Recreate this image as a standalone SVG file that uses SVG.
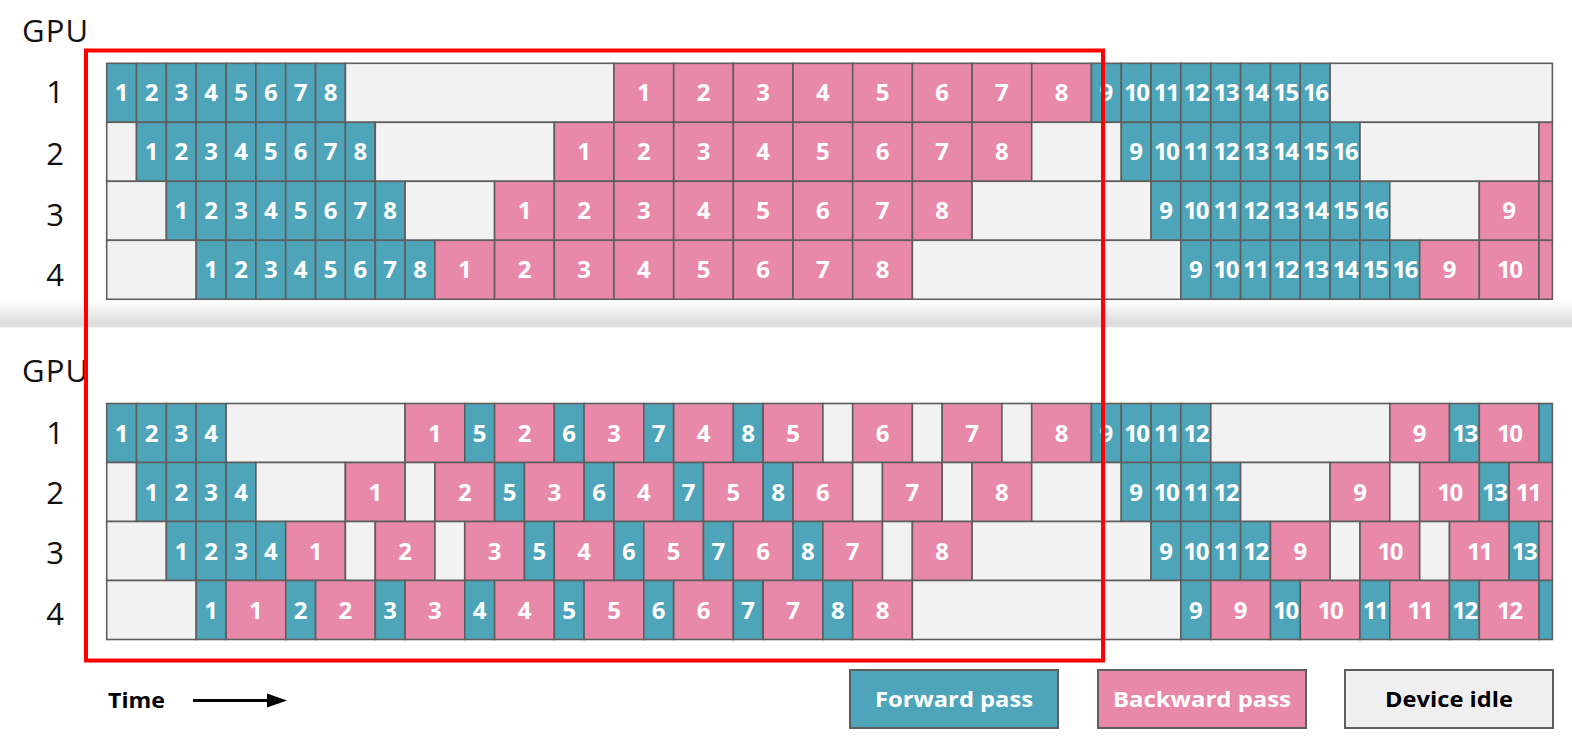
<svg xmlns="http://www.w3.org/2000/svg" width="1572" height="744" viewBox="0 0 1572 744">
<defs>
<style>
.f{fill:#4EA5B9}.b{fill:#E889A9}.i{fill:#F2F2F2}
.cells rect{stroke:#5E5E5E;stroke-width:1.6}
.n{font-family:'Open Sans','Liberation Sans',sans-serif;font-weight:700;font-size:24px;fill:#fff;text-anchor:middle}
.n2{letter-spacing:-1.5px}
.lab{font-family:'Open Sans','Liberation Sans',sans-serif;font-weight:400;font-size:31px;fill:#111}
.rl{text-anchor:middle}
.lg{font-family:'Open Sans','Liberation Sans',sans-serif;font-weight:700;font-size:22px;text-anchor:middle}
</style>
<linearGradient id="sh" x1="0" y1="0" x2="0" y2="1">
<stop offset="0" stop-color="#ffffff"/>
<stop offset="0.85" stop-color="#dcdcdc"/>
<stop offset="1" stop-color="#e4e4e4"/>
</linearGradient>
</defs>
<rect width="1572" height="744" fill="#fff"/>

<!-- TOP SECTION -->
<g id="top-labels" class="lab">
<text x="22" y="42" textLength="66">GPU</text>
<text class="rl" x="55" y="102.5">1</text>
<text class="rl" x="55" y="165">2</text>
<text class="rl" x="55" y="225.5">3</text>
<text class="rl" x="55" y="286">4</text>
</g>

<g id="top-gpu1" class="cells">
<rect class="f" x="106.7" y="63.3" width="29.8" height="59"/><rect class="f" x="136.5" y="63.3" width="29.8" height="59"/><rect class="f" x="166.4" y="63.3" width="29.8" height="59"/><rect class="f" x="196.2" y="63.3" width="29.8" height="59"/><rect class="f" x="226.1" y="63.3" width="29.8" height="59"/><rect class="f" x="255.9" y="63.3" width="29.8" height="59"/><rect class="f" x="285.7" y="63.3" width="29.8" height="59"/><rect class="f" x="315.6" y="63.3" width="29.8" height="59"/>
<rect class="i" x="345.4" y="63.3" width="268.6" height="59"/>
<rect class="b" x="614" y="63.3" width="59.7" height="59"/><rect class="b" x="673.7" y="63.3" width="59.7" height="59"/><rect class="b" x="733.3" y="63.3" width="59.7" height="59"/><rect class="b" x="793" y="63.3" width="59.7" height="59"/><rect class="b" x="852.7" y="63.3" width="59.7" height="59"/><rect class="b" x="912.4" y="63.3" width="59.7" height="59"/><rect class="b" x="972.1" y="63.3" width="59.7" height="59"/><rect class="b" x="1031.7" y="63.3" width="59.7" height="59"/>
<rect class="f" x="1091.4" y="63.3" width="29.8" height="59"/><rect class="f" x="1121.3" y="63.3" width="29.8" height="59"/><rect class="f" x="1151.1" y="63.3" width="29.8" height="59"/><rect class="f" x="1180.9" y="63.3" width="29.8" height="59"/><rect class="f" x="1210.8" y="63.3" width="29.8" height="59"/><rect class="f" x="1240.6" y="63.3" width="29.8" height="59"/><rect class="f" x="1270.5" y="63.3" width="29.8" height="59"/><rect class="f" x="1300.3" y="63.3" width="29.8" height="59"/>
<rect class="i" x="1330.1" y="63.3" width="222.3" height="59"/>
<g class="n">
<text x="121.6" y="101.3">1</text><text x="151.5" y="101.3">2</text><text x="181.3" y="101.3">3</text><text x="211.1" y="101.3">4</text><text x="241" y="101.3">5</text><text x="270.8" y="101.3">6</text><text x="300.6" y="101.3">7</text><text x="330.5" y="101.3">8</text>
<text x="643.8" y="101.3">1</text><text x="703.5" y="101.3">2</text><text x="763.2" y="101.3">3</text><text x="822.9" y="101.3">4</text><text x="882.5" y="101.3">5</text><text x="942.2" y="101.3">6</text><text x="1001.9" y="101.3">7</text><text x="1061.6" y="101.3">8</text>
<text x="1106.3" y="101.3">9</text><text class="n2" x="1136.2" y="101.3">10</text><text class="n2" x="1166" y="101.3">11</text><text class="n2" x="1195.8" y="101.3">12</text><text class="n2" x="1225.7" y="101.3">13</text><text class="n2" x="1255.5" y="101.3">14</text><text class="n2" x="1285.4" y="101.3">15</text><text class="n2" x="1315.2" y="101.3">16</text>
</g>
</g>

<g id="top-gpu2" class="cells">
<rect class="i" x="106.7" y="122.3" width="29.8" height="59"/>
<rect class="f" x="136.5" y="122.3" width="29.8" height="59"/><rect class="f" x="166.4" y="122.3" width="29.8" height="59"/><rect class="f" x="196.2" y="122.3" width="29.8" height="59"/><rect class="f" x="226.1" y="122.3" width="29.8" height="59"/><rect class="f" x="255.9" y="122.3" width="29.8" height="59"/><rect class="f" x="285.7" y="122.3" width="29.8" height="59"/><rect class="f" x="315.6" y="122.3" width="29.8" height="59"/><rect class="f" x="345.4" y="122.3" width="29.8" height="59"/>
<rect class="i" x="375.3" y="122.3" width="179" height="59"/>
<rect class="b" x="554.3" y="122.3" width="59.7" height="59"/><rect class="b" x="614" y="122.3" width="59.7" height="59"/><rect class="b" x="673.7" y="122.3" width="59.7" height="59"/><rect class="b" x="733.3" y="122.3" width="59.7" height="59"/><rect class="b" x="793" y="122.3" width="59.7" height="59"/><rect class="b" x="852.7" y="122.3" width="59.7" height="59"/><rect class="b" x="912.4" y="122.3" width="59.7" height="59"/><rect class="b" x="972.1" y="122.3" width="59.7" height="59"/>
<rect class="i" x="1031.7" y="122.3" width="89.6" height="59"/>
<rect class="f" x="1121.3" y="122.3" width="29.8" height="59"/><rect class="f" x="1151.1" y="122.3" width="29.8" height="59"/><rect class="f" x="1180.9" y="122.3" width="29.8" height="59"/><rect class="f" x="1210.8" y="122.3" width="29.8" height="59"/><rect class="f" x="1240.6" y="122.3" width="29.8" height="59"/><rect class="f" x="1270.5" y="122.3" width="29.8" height="59"/><rect class="f" x="1300.3" y="122.3" width="29.8" height="59"/><rect class="f" x="1330.1" y="122.3" width="29.8" height="59"/>
<rect class="i" x="1360" y="122.3" width="179" height="59"/>
<rect class="b" x="1539" y="122.3" width="13.4" height="59"/>
<g class="n">
<text x="151.5" y="160.3">1</text><text x="181.3" y="160.3">2</text><text x="211.1" y="160.3">3</text><text x="241" y="160.3">4</text><text x="270.8" y="160.3">5</text><text x="300.6" y="160.3">6</text><text x="330.5" y="160.3">7</text><text x="360.3" y="160.3">8</text>
<text x="584.1" y="160.3">1</text><text x="643.8" y="160.3">2</text><text x="703.5" y="160.3">3</text><text x="763.2" y="160.3">4</text><text x="822.9" y="160.3">5</text><text x="882.5" y="160.3">6</text><text x="942.2" y="160.3">7</text><text x="1001.9" y="160.3">8</text>
<text x="1136.2" y="160.3">9</text><text class="n2" x="1166" y="160.3">10</text><text class="n2" x="1195.8" y="160.3">11</text><text class="n2" x="1225.7" y="160.3">12</text><text class="n2" x="1255.5" y="160.3">13</text><text class="n2" x="1285.4" y="160.3">14</text><text class="n2" x="1315.2" y="160.3">15</text><text class="n2" x="1345.1" y="160.3">16</text>
</g>
</g>

<g id="top-gpu3" class="cells">
<rect class="i" x="106.7" y="181.3" width="59.7" height="59"/>
<rect class="f" x="166.4" y="181.3" width="29.8" height="59"/><rect class="f" x="196.2" y="181.3" width="29.8" height="59"/><rect class="f" x="226.1" y="181.3" width="29.8" height="59"/><rect class="f" x="255.9" y="181.3" width="29.8" height="59"/><rect class="f" x="285.7" y="181.3" width="29.8" height="59"/><rect class="f" x="315.6" y="181.3" width="29.8" height="59"/><rect class="f" x="345.4" y="181.3" width="29.8" height="59"/><rect class="f" x="375.3" y="181.3" width="29.8" height="59"/>
<rect class="i" x="405.1" y="181.3" width="89.5" height="59"/>
<rect class="b" x="494.6" y="181.3" width="59.7" height="59"/><rect class="b" x="554.3" y="181.3" width="59.7" height="59"/><rect class="b" x="614" y="181.3" width="59.7" height="59"/><rect class="b" x="673.7" y="181.3" width="59.7" height="59"/><rect class="b" x="733.3" y="181.3" width="59.7" height="59"/><rect class="b" x="793" y="181.3" width="59.7" height="59"/><rect class="b" x="852.7" y="181.3" width="59.7" height="59"/><rect class="b" x="912.4" y="181.3" width="59.7" height="59"/>
<rect class="i" x="972.1" y="181.3" width="179" height="59"/>
<rect class="f" x="1151.1" y="181.3" width="29.8" height="59"/><rect class="f" x="1180.9" y="181.3" width="29.8" height="59"/><rect class="f" x="1210.8" y="181.3" width="29.8" height="59"/><rect class="f" x="1240.6" y="181.3" width="29.8" height="59"/><rect class="f" x="1270.5" y="181.3" width="29.8" height="59"/><rect class="f" x="1300.3" y="181.3" width="29.8" height="59"/><rect class="f" x="1330.1" y="181.3" width="29.8" height="59"/><rect class="f" x="1360" y="181.3" width="29.8" height="59"/>
<rect class="i" x="1389.8" y="181.3" width="89.5" height="59"/>
<rect class="b" x="1479.3" y="181.3" width="59.7" height="59"/>
<rect class="b" x="1539" y="181.3" width="13.4" height="59"/>
<g class="n">
<text x="181.3" y="219.3">1</text><text x="211.1" y="219.3">2</text><text x="241" y="219.3">3</text><text x="270.8" y="219.3">4</text><text x="300.6" y="219.3">5</text><text x="330.5" y="219.3">6</text><text x="360.3" y="219.3">7</text><text x="390.2" y="219.3">8</text>
<text x="524.5" y="219.3">1</text><text x="584.1" y="219.3">2</text><text x="643.8" y="219.3">3</text><text x="703.5" y="219.3">4</text><text x="763.2" y="219.3">5</text><text x="822.9" y="219.3">6</text><text x="882.5" y="219.3">7</text><text x="942.2" y="219.3">8</text>
<text x="1166" y="219.3">9</text><text class="n2" x="1195.8" y="219.3">10</text><text class="n2" x="1225.7" y="219.3">11</text><text class="n2" x="1255.5" y="219.3">12</text><text class="n2" x="1285.4" y="219.3">13</text><text class="n2" x="1315.2" y="219.3">14</text><text class="n2" x="1345.1" y="219.3">15</text><text class="n2" x="1374.9" y="219.3">16</text>
<text x="1509.2" y="219.3">9</text>
</g>
</g>

<g id="top-gpu4" class="cells">
<rect class="i" x="106.7" y="240.3" width="89.5" height="59"/>
<rect class="f" x="196.2" y="240.3" width="29.8" height="59"/><rect class="f" x="226.1" y="240.3" width="29.8" height="59"/><rect class="f" x="255.9" y="240.3" width="29.8" height="59"/><rect class="f" x="285.7" y="240.3" width="29.8" height="59"/><rect class="f" x="315.6" y="240.3" width="29.8" height="59"/><rect class="f" x="345.4" y="240.3" width="29.8" height="59"/><rect class="f" x="375.3" y="240.3" width="29.8" height="59"/><rect class="f" x="405.1" y="240.3" width="29.8" height="59"/>
<rect class="b" x="434.9" y="240.3" width="59.7" height="59"/><rect class="b" x="494.6" y="240.3" width="59.7" height="59"/><rect class="b" x="554.3" y="240.3" width="59.7" height="59"/><rect class="b" x="614" y="240.3" width="59.7" height="59"/><rect class="b" x="673.7" y="240.3" width="59.7" height="59"/><rect class="b" x="733.3" y="240.3" width="59.7" height="59"/><rect class="b" x="793" y="240.3" width="59.7" height="59"/><rect class="b" x="852.7" y="240.3" width="59.7" height="59"/>
<rect class="i" x="912.4" y="240.3" width="268.5" height="59"/>
<rect class="f" x="1180.9" y="240.3" width="29.8" height="59"/><rect class="f" x="1210.8" y="240.3" width="29.8" height="59"/><rect class="f" x="1240.6" y="240.3" width="29.8" height="59"/><rect class="f" x="1270.5" y="240.3" width="29.8" height="59"/><rect class="f" x="1300.3" y="240.3" width="29.8" height="59"/><rect class="f" x="1330.1" y="240.3" width="29.8" height="59"/><rect class="f" x="1360" y="240.3" width="29.8" height="59"/><rect class="f" x="1389.8" y="240.3" width="29.8" height="59"/>
<rect class="b" x="1419.7" y="240.3" width="59.7" height="59"/><rect class="b" x="1479.3" y="240.3" width="59.7" height="59"/>
<rect class="b" x="1539" y="240.3" width="13.4" height="59"/>
<g class="n">
<text x="211.1" y="278.3">1</text><text x="241" y="278.3">2</text><text x="270.8" y="278.3">3</text><text x="300.6" y="278.3">4</text><text x="330.5" y="278.3">5</text><text x="360.3" y="278.3">6</text><text x="390.2" y="278.3">7</text><text x="420" y="278.3">8</text>
<text x="464.8" y="278.3">1</text><text x="524.5" y="278.3">2</text><text x="584.1" y="278.3">3</text><text x="643.8" y="278.3">4</text><text x="703.5" y="278.3">5</text><text x="763.2" y="278.3">6</text><text x="822.9" y="278.3">7</text><text x="882.5" y="278.3">8</text>
<text x="1195.8" y="278.3">9</text><text class="n2" x="1225.7" y="278.3">10</text><text class="n2" x="1255.5" y="278.3">11</text><text class="n2" x="1285.4" y="278.3">12</text><text class="n2" x="1315.2" y="278.3">13</text><text class="n2" x="1345.1" y="278.3">14</text><text class="n2" x="1374.9" y="278.3">15</text><text class="n2" x="1404.7" y="278.3">16</text>
<text x="1449.5" y="278.3">9</text><text class="n2" x="1509.2" y="278.3">10</text>
</g>
</g>

<rect id="divider-shadow" x="0" y="300.5" width="1572" height="27" fill="url(#sh)"/>

<!-- BOTTOM SECTION -->
<g id="bottom-labels" class="lab">
<text x="22" y="382" textLength="66">GPU</text>
<text class="rl" x="55" y="443.5">1</text>
<text class="rl" x="55" y="503.5">2</text>
<text class="rl" x="55" y="564">3</text>
<text class="rl" x="55" y="625">4</text>
</g>

<g id="bottom-gpu1" class="cells">
<rect class="f" x="106.7" y="403.5" width="29.8" height="59"/><rect class="f" x="136.5" y="403.5" width="29.8" height="59"/><rect class="f" x="166.4" y="403.5" width="29.8" height="59"/><rect class="f" x="196.2" y="403.5" width="29.8" height="59"/>
<rect class="i" x="226.1" y="403.5" width="179" height="59"/>
<rect class="b" x="405.1" y="403.5" width="59.7" height="59"/>
<rect class="f" x="464.8" y="403.5" width="29.8" height="59"/>
<rect class="b" x="494.6" y="403.5" width="59.7" height="59"/>
<rect class="f" x="554.3" y="403.5" width="29.8" height="59"/>
<rect class="b" x="584.1" y="403.5" width="59.7" height="59"/>
<rect class="f" x="643.8" y="403.5" width="29.8" height="59"/>
<rect class="b" x="673.7" y="403.5" width="59.7" height="59"/>
<rect class="f" x="733.3" y="403.5" width="29.8" height="59"/>
<rect class="b" x="763.2" y="403.5" width="59.7" height="59"/>
<rect class="i" x="822.9" y="403.5" width="29.8" height="59"/>
<rect class="b" x="852.7" y="403.5" width="59.7" height="59"/>
<rect class="i" x="912.4" y="403.5" width="29.8" height="59"/>
<rect class="b" x="942.2" y="403.5" width="59.7" height="59"/>
<rect class="i" x="1001.9" y="403.5" width="29.8" height="59"/>
<rect class="b" x="1031.7" y="403.5" width="59.7" height="59"/>
<rect class="f" x="1091.4" y="403.5" width="29.8" height="59"/><rect class="f" x="1121.3" y="403.5" width="29.8" height="59"/><rect class="f" x="1151.1" y="403.5" width="29.8" height="59"/><rect class="f" x="1180.9" y="403.5" width="29.8" height="59"/>
<rect class="i" x="1210.8" y="403.5" width="179" height="59"/>
<rect class="b" x="1389.8" y="403.5" width="59.7" height="59"/>
<rect class="f" x="1449.5" y="403.5" width="29.8" height="59"/>
<rect class="b" x="1479.3" y="403.5" width="59.7" height="59"/>
<rect class="f" x="1539" y="403.5" width="13.4" height="59"/>
<g class="n">
<text x="121.6" y="441.5">1</text><text x="151.5" y="441.5">2</text><text x="181.3" y="441.5">3</text><text x="211.1" y="441.5">4</text>
<text x="434.9" y="441.5">1</text><text x="479.7" y="441.5">5</text><text x="524.5" y="441.5">2</text><text x="569.2" y="441.5">6</text><text x="614" y="441.5">3</text><text x="658.7" y="441.5">7</text><text x="703.5" y="441.5">4</text><text x="748.2" y="441.5">8</text><text x="793" y="441.5">5</text>
<text x="882.5" y="441.5">6</text><text x="972.1" y="441.5">7</text><text x="1061.6" y="441.5">8</text>
<text x="1106.3" y="441.5">9</text><text class="n2" x="1136.2" y="441.5">10</text><text class="n2" x="1166" y="441.5">11</text><text class="n2" x="1195.8" y="441.5">12</text>
<text x="1419.7" y="441.5">9</text><text class="n2" x="1464.4" y="441.5">13</text><text class="n2" x="1509.2" y="441.5">10</text>
</g>
</g>

<g id="bottom-gpu2" class="cells">
<rect class="i" x="106.7" y="462.5" width="29.8" height="59"/>
<rect class="f" x="136.5" y="462.5" width="29.8" height="59"/><rect class="f" x="166.4" y="462.5" width="29.8" height="59"/><rect class="f" x="196.2" y="462.5" width="29.8" height="59"/><rect class="f" x="226.1" y="462.5" width="29.8" height="59"/>
<rect class="i" x="255.9" y="462.5" width="89.5" height="59"/>
<rect class="b" x="345.4" y="462.5" width="59.7" height="59"/>
<rect class="i" x="405.1" y="462.5" width="29.8" height="59"/>
<rect class="b" x="434.9" y="462.5" width="59.7" height="59"/>
<rect class="f" x="494.6" y="462.5" width="29.8" height="59"/>
<rect class="b" x="524.5" y="462.5" width="59.7" height="59"/>
<rect class="f" x="584.1" y="462.5" width="29.8" height="59"/>
<rect class="b" x="614" y="462.5" width="59.7" height="59"/>
<rect class="f" x="673.7" y="462.5" width="29.8" height="59"/>
<rect class="b" x="703.5" y="462.5" width="59.7" height="59"/>
<rect class="f" x="763.2" y="462.5" width="29.8" height="59"/>
<rect class="b" x="793" y="462.5" width="59.7" height="59"/>
<rect class="i" x="852.7" y="462.5" width="29.8" height="59"/>
<rect class="b" x="882.5" y="462.5" width="59.7" height="59"/>
<rect class="i" x="942.2" y="462.5" width="29.8" height="59"/>
<rect class="b" x="972.1" y="462.5" width="59.7" height="59"/>
<rect class="i" x="1031.7" y="462.5" width="89.6" height="59"/>
<rect class="f" x="1121.3" y="462.5" width="29.8" height="59"/><rect class="f" x="1151.1" y="462.5" width="29.8" height="59"/><rect class="f" x="1180.9" y="462.5" width="29.8" height="59"/><rect class="f" x="1210.8" y="462.5" width="29.8" height="59"/>
<rect class="i" x="1240.6" y="462.5" width="89.5" height="59"/>
<rect class="b" x="1330.1" y="462.5" width="59.7" height="59"/>
<rect class="i" x="1389.8" y="462.5" width="29.8" height="59"/>
<rect class="b" x="1419.7" y="462.5" width="59.7" height="59"/>
<rect class="f" x="1479.3" y="462.5" width="29.8" height="59"/>
<rect class="b" x="1509.2" y="462.5" width="43.2" height="59"/>
<g class="n">
<text x="151.5" y="500.5">1</text><text x="181.3" y="500.5">2</text><text x="211.1" y="500.5">3</text><text x="241" y="500.5">4</text>
<text x="375.3" y="500.5">1</text><text x="464.8" y="500.5">2</text><text x="509.5" y="500.5">5</text><text x="554.3" y="500.5">3</text><text x="599" y="500.5">6</text><text x="643.8" y="500.5">4</text><text x="688.6" y="500.5">7</text><text x="733.3" y="500.5">5</text><text x="778.1" y="500.5">8</text><text x="822.9" y="500.5">6</text>
<text x="912.4" y="500.5">7</text><text x="1001.9" y="500.5">8</text>
<text x="1136.2" y="500.5">9</text><text class="n2" x="1166" y="500.5">10</text><text class="n2" x="1195.8" y="500.5">11</text><text class="n2" x="1225.7" y="500.5">12</text>
<text x="1360" y="500.5">9</text><text class="n2" x="1449.5" y="500.5">10</text><text class="n2" x="1494.3" y="500.5">13</text><text class="n2" x="1528" y="500.5">11</text>
</g>
</g>

<g id="bottom-gpu3" class="cells">
<rect class="i" x="106.7" y="521.5" width="59.7" height="59"/>
<rect class="f" x="166.4" y="521.5" width="29.8" height="59"/><rect class="f" x="196.2" y="521.5" width="29.8" height="59"/><rect class="f" x="226.1" y="521.5" width="29.8" height="59"/><rect class="f" x="255.9" y="521.5" width="29.8" height="59"/>
<rect class="b" x="285.7" y="521.5" width="59.7" height="59"/>
<rect class="i" x="345.4" y="521.5" width="29.8" height="59"/>
<rect class="b" x="375.3" y="521.5" width="59.7" height="59"/>
<rect class="i" x="434.9" y="521.5" width="29.8" height="59"/>
<rect class="b" x="464.8" y="521.5" width="59.7" height="59"/>
<rect class="f" x="524.5" y="521.5" width="29.8" height="59"/>
<rect class="b" x="554.3" y="521.5" width="59.7" height="59"/>
<rect class="f" x="614" y="521.5" width="29.8" height="59"/>
<rect class="b" x="643.8" y="521.5" width="59.7" height="59"/>
<rect class="f" x="703.5" y="521.5" width="29.8" height="59"/>
<rect class="b" x="733.3" y="521.5" width="59.7" height="59"/>
<rect class="f" x="793" y="521.5" width="29.8" height="59"/>
<rect class="b" x="822.9" y="521.5" width="59.7" height="59"/>
<rect class="i" x="882.5" y="521.5" width="29.8" height="59"/>
<rect class="b" x="912.4" y="521.5" width="59.7" height="59"/>
<rect class="i" x="972.1" y="521.5" width="179" height="59"/>
<rect class="f" x="1151.1" y="521.5" width="29.8" height="59"/><rect class="f" x="1180.9" y="521.5" width="29.8" height="59"/><rect class="f" x="1210.8" y="521.5" width="29.8" height="59"/><rect class="f" x="1240.6" y="521.5" width="29.8" height="59"/>
<rect class="b" x="1270.5" y="521.5" width="59.7" height="59"/>
<rect class="i" x="1330.1" y="521.5" width="29.8" height="59"/>
<rect class="b" x="1360" y="521.5" width="59.7" height="59"/>
<rect class="i" x="1419.7" y="521.5" width="29.8" height="59"/>
<rect class="b" x="1449.5" y="521.5" width="59.7" height="59"/>
<rect class="f" x="1509.2" y="521.5" width="29.8" height="59"/>
<rect class="b" x="1539" y="521.5" width="13.4" height="59"/>
<g class="n">
<text x="181.3" y="559.5">1</text><text x="211.1" y="559.5">2</text><text x="241" y="559.5">3</text><text x="270.8" y="559.5">4</text>
<text x="315.6" y="559.5">1</text><text x="405.1" y="559.5">2</text><text x="494.6" y="559.5">3</text><text x="539.4" y="559.5">5</text><text x="584.1" y="559.5">4</text><text x="628.9" y="559.5">6</text><text x="673.7" y="559.5">5</text><text x="718.4" y="559.5">7</text><text x="763.2" y="559.5">6</text><text x="807.9" y="559.5">8</text><text x="852.7" y="559.5">7</text>
<text x="942.2" y="559.5">8</text>
<text x="1166" y="559.5">9</text><text class="n2" x="1195.8" y="559.5">10</text><text class="n2" x="1225.7" y="559.5">11</text><text class="n2" x="1255.5" y="559.5">12</text>
<text x="1300.3" y="559.5">9</text><text class="n2" x="1389.8" y="559.5">10</text><text class="n2" x="1479.3" y="559.5">11</text><text class="n2" x="1524.1" y="559.5">13</text>
</g>
</g>

<g id="bottom-gpu4" class="cells">
<rect class="i" x="106.7" y="580.5" width="89.5" height="59"/>
<rect class="f" x="196.2" y="580.5" width="29.8" height="59"/>
<rect class="b" x="226.1" y="580.5" width="59.7" height="59"/>
<rect class="f" x="285.7" y="580.5" width="29.8" height="59"/>
<rect class="b" x="315.6" y="580.5" width="59.7" height="59"/>
<rect class="f" x="375.3" y="580.5" width="29.8" height="59"/>
<rect class="b" x="405.1" y="580.5" width="59.7" height="59"/>
<rect class="f" x="464.8" y="580.5" width="29.8" height="59"/>
<rect class="b" x="494.6" y="580.5" width="59.7" height="59"/>
<rect class="f" x="554.3" y="580.5" width="29.8" height="59"/>
<rect class="b" x="584.1" y="580.5" width="59.7" height="59"/>
<rect class="f" x="643.8" y="580.5" width="29.8" height="59"/>
<rect class="b" x="673.7" y="580.5" width="59.7" height="59"/>
<rect class="f" x="733.3" y="580.5" width="29.8" height="59"/>
<rect class="b" x="763.2" y="580.5" width="59.7" height="59"/>
<rect class="f" x="822.9" y="580.5" width="29.8" height="59"/>
<rect class="b" x="852.7" y="580.5" width="59.7" height="59"/>
<rect class="i" x="912.4" y="580.5" width="268.5" height="59"/>
<rect class="f" x="1180.9" y="580.5" width="29.8" height="59"/>
<rect class="b" x="1210.8" y="580.5" width="59.7" height="59"/>
<rect class="f" x="1270.5" y="580.5" width="29.8" height="59"/>
<rect class="b" x="1300.3" y="580.5" width="59.7" height="59"/>
<rect class="f" x="1360" y="580.5" width="29.8" height="59"/>
<rect class="b" x="1389.8" y="580.5" width="59.7" height="59"/>
<rect class="f" x="1449.5" y="580.5" width="29.8" height="59"/>
<rect class="b" x="1479.3" y="580.5" width="59.7" height="59"/>
<rect class="f" x="1539" y="580.5" width="13.4" height="59"/>
<g class="n">
<text x="211.1" y="618.5">1</text><text x="255.9" y="618.5">1</text><text x="300.6" y="618.5">2</text><text x="345.4" y="618.5">2</text><text x="390.2" y="618.5">3</text><text x="434.9" y="618.5">3</text><text x="479.7" y="618.5">4</text><text x="524.5" y="618.5">4</text><text x="569.2" y="618.5">5</text><text x="614" y="618.5">5</text><text x="658.7" y="618.5">6</text><text x="703.5" y="618.5">6</text><text x="748.2" y="618.5">7</text><text x="793" y="618.5">7</text><text x="837.8" y="618.5">8</text><text x="882.5" y="618.5">8</text>
<text x="1195.8" y="618.5">9</text><text x="1240.6" y="618.5">9</text><text class="n2" x="1285.4" y="618.5">10</text><text class="n2" x="1330.1" y="618.5">10</text><text class="n2" x="1374.9" y="618.5">11</text><text class="n2" x="1419.7" y="618.5">11</text><text class="n2" x="1464.4" y="618.5">12</text><text class="n2" x="1509.2" y="618.5">12</text>
</g>
</g>

<!-- highlight box -->
<rect id="highlight" x="86" y="50.5" width="1017" height="610" fill="none" stroke="#ff0000" stroke-width="4"/>

<!-- time axis -->
<g id="time-axis">
<text x="108" y="708" font-family="'Open Sans','Liberation Sans',sans-serif" font-weight="700" font-size="21" fill="#000" textLength="57" lengthAdjust="spacingAndGlyphs">Time</text>
<line x1="193" y1="700.5" x2="270" y2="700.5" stroke="#000" stroke-width="3"/>
<polygon points="267,693.5 287,700.5 267,707.5" fill="#000"/>
</g>

<!-- legend -->
<g id="legend-forward">
<rect class="f" x="850" y="670" width="208" height="58" stroke="#5E5E5E" stroke-width="2"/>
<text class="lg" x="954" y="706.5" fill="#fff" textLength="158" lengthAdjust="spacingAndGlyphs">Forward pass</text>
</g>
<g id="legend-backward">
<rect class="b" x="1098" y="670" width="208" height="58" stroke="#5E5E5E" stroke-width="2"/>
<text class="lg" x="1202" y="706.5" fill="#fff" textLength="178" lengthAdjust="spacingAndGlyphs">Backward pass</text>
</g>
<g id="legend-idle">
<rect x="1345" y="670" width="208" height="58" fill="#EFEFEF" stroke="#5E5E5E" stroke-width="2"/>
<text class="lg" x="1449" y="706.5" fill="#000" textLength="128" lengthAdjust="spacingAndGlyphs">Device idle</text>
</g>
</svg>
